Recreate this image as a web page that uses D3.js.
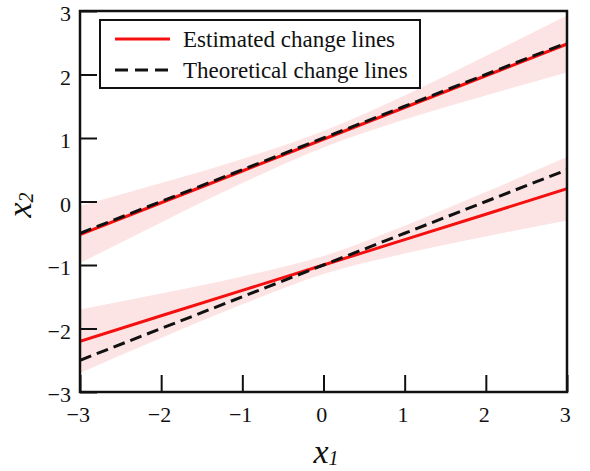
<!DOCTYPE html>
<html>
<head>
<meta charset="utf-8">
<script src="https://cdn.jsdelivr.net/npm/d3@7/dist/d3.min.js"></script>
<style>
  body { margin: 0; background: #fff; }
  text { font-family: "Liberation Serif", "Times New Roman", serif; fill: #111; }
</style>
</head>
<body>
<div id="chart"></div>
<script>
// data
const xs = [-3, -2, -1, 0, 1, 2, 3];
const estUpper = [-0.52, -0.02, 0.48, 0.98, 1.48, 1.98, 2.48];
const bandUpperLo = [-0.97, -0.33, 0.29, 0.85, 1.29, 1.67, 2.03];
const bandUpperHi = [-0.07, 0.29, 0.67, 1.11, 1.67, 2.29, 2.93];
const theoUpper = [-0.5, 0, 0.5, 1, 1.5, 2, 2.5];

const estLower = [-2.2, -1.8, -1.4, -1.0, -0.6, -0.2, 0.2];
const bandLowerLo = [-2.7, -2.15, -1.62, -1.14, -0.82, -0.55, -0.3];
const bandLowerHi = [-1.7, -1.45, -1.18, -0.86, -0.38, 0.15, 0.7];
const theoLower = [-2.5, -2, -1.5, -1, -0.5, 0, 0.5];

const tickValues = [-3, -2, -1, 0, 1, 2, 3];
const legendLabels = ["Estimated change lines", "Theoretical change lines"];

const width = 590, height = 471;
const margin = { left: 80, right: 23, top: 11, bottom: 79 };

const svg = d3.select("#chart").append("svg")
  .attr("width", width)
  .attr("height", height);

const x = d3.scaleLinear().domain([-3, 3]).range([margin.left, width - margin.right]);
const y = d3.scaleLinear().domain([-3, 3]).range([height - margin.bottom, margin.top]);

svg.append("clipPath").attr("id", "clip")
  .append("rect")
  .attr("x", x(-3)).attr("y", y(3))
  .attr("width", x(3) - x(-3)).attr("height", y(-3) - y(3));

const plot = svg.append("g").attr("clip-path", "url(#clip)");

const area = (lo, hi) => d3.area()
  .curve(d3.curveMonotoneX)
  .x((d, i) => x(xs[i]))
  .y0((d, i) => y(lo[i]))
  .y1((d, i) => y(hi[i]))(xs);

const line = vals => d3.line()
  .x((d, i) => x(xs[i]))
  .y(d => y(d))(vals);

[[bandUpperLo, bandUpperHi], [bandLowerLo, bandLowerHi]].forEach(([lo, hi]) => {
  plot.append("path")
    .attr("d", area(lo, hi))
    .attr("fill", "#fde4e4");
});

[estUpper, estLower].forEach(v => {
  plot.append("path")
    .attr("d", line(v))
    .attr("fill", "none")
    .attr("stroke", "#f50f0f")
    .attr("stroke-width", 3);
});

[theoUpper, theoLower].forEach(v => {
  plot.append("path")
    .attr("d", line(v))
    .attr("fill", "none")
    .attr("stroke", "#111")
    .attr("stroke-width", 3)
    .attr("stroke-dasharray", "12,6");
});

// axes with inward ticks
const fmt = d3.format("d");
const xAxis = svg.append("g")
  .attr("transform", `translate(0,${y(-3)})`)
  .call(d3.axisBottom(x).tickValues(tickValues).tickFormat(fmt).tickSizeInner(-17).tickSizeOuter(0).tickPadding(23));
const yAxis = svg.append("g")
  .attr("transform", `translate(${x(-3)},0)`)
  .call(d3.axisLeft(y).tickValues(tickValues).tickFormat(fmt).tickSizeInner(-17).tickSizeOuter(0).tickPadding(9));

[xAxis, yAxis].forEach(g => {
  g.select(".domain").remove();
  g.selectAll(".tick line").attr("stroke", "#111").attr("stroke-width", 2);
  g.selectAll(".tick text").attr("font-size", 22).attr("fill", "#111");
});
xAxis.selectAll(".tick text").attr("dy", "0.3em").attr("dx", "-0.1em");
yAxis.selectAll(".tick text").attr("dy", "0.45em");

svg.append("rect")
  .attr("x", x(-3)).attr("y", y(3))
  .attr("width", x(3) - x(-3)).attr("height", y(-3) - y(3))
  .attr("fill", "none").attr("stroke", "#111").attr("stroke-width", 2.5);

// legend
const lg = svg.append("g");
lg.append("rect")
  .attr("x", 100).attr("y", 20).attr("width", 320).attr("height", 68)
  .attr("fill", "#fff").attr("stroke", "#111").attr("stroke-width", 2);
legendLabels.forEach((t, i) => {
  const yy = 39 + i * 31;
  lg.append("line")
    .attr("x1", 115).attr("x2", 170).attr("y1", yy).attr("y2", yy)
    .attr("stroke", i === 0 ? "#f50f0f" : "#111")
    .attr("stroke-width", 3)
    .attr("stroke-dasharray", i === 0 ? null : "13,7");
  lg.append("text")
    .attr("x", 183).attr("y", yy + 8)
    .attr("font-size", 23)
    .text(t);
});

// axis titles
const xt = svg.append("text")
  .attr("x", 326).attr("y", 463)
  .attr("text-anchor", "middle")
  .attr("font-style", "italic");
xt.append("tspan").attr("font-size", 34).text("x");
xt.append("tspan").attr("font-size", 20).attr("dy", 2).text("1");

const yt = svg.append("text")
  .attr("transform", "translate(31,205) rotate(-90)")
  .attr("text-anchor", "middle")
  .attr("font-style", "italic");
yt.append("tspan").attr("font-size", 34).text("x");
yt.append("tspan").attr("font-size", 20).attr("dy", 2).text("2");
</script>
</body>
</html>
